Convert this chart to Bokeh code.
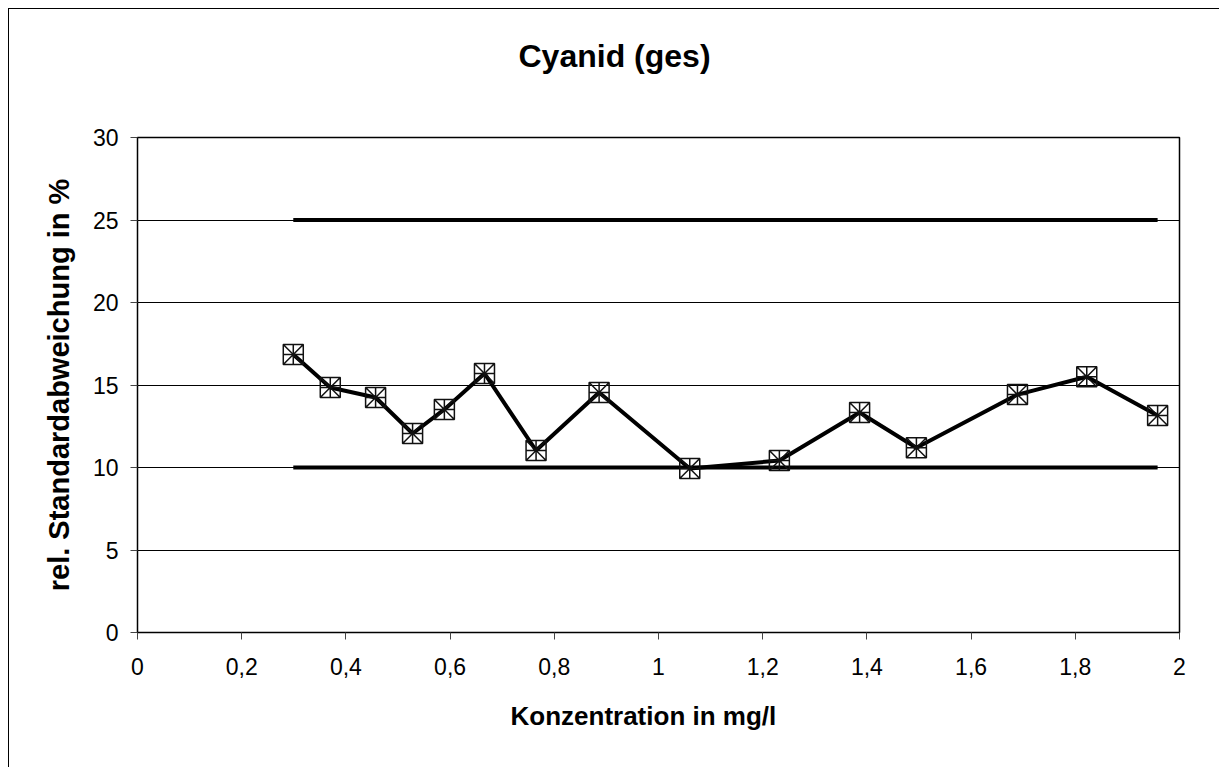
from bokeh.plotting import figure
from bokeh.models import FixedTicker, Title
from bokeh.embed import file_html
from bokeh.resources import INLINE

# ---- data ----
conc = [0.299, 0.370, 0.457, 0.528, 0.589, 0.666, 0.765, 0.886, 1.060,
        1.232, 1.386, 1.495, 1.689, 1.822, 1.958]
rsd = [16.85, 14.85, 14.24, 12.06, 13.52, 15.7, 11.03, 14.55, 9.94,
       10.42, 13.33, 11.2, 14.42, 15.5, 13.15]
limit_x = [0.299, 1.958]
limit_low = [10, 10]
limit_high = [25, 25]

x_ticks = [0, 0.2, 0.4, 0.6, 0.8, 1.0, 1.2, 1.4, 1.6, 1.8, 2.0]
x_tick_labels = ["0", "0,2", "0,4", "0,6", "0,8", "1", "1,2", "1,4", "1,6", "1,8", "2"]
y_ticks = [0, 5, 10, 15, 20, 25, 30]

title_text = "Cyanid (ges)"
x_label = "Konzentration in mg/l"
y_label = "rel. Standardabweichung in %"

FONT = "Liberation Sans"

p = figure(width=1211, height=759, output_backend="svg", toolbar_location=None,
           x_range=(0, 2), y_range=(0, 30),
           min_border_left=128, min_border_right=41,
           min_border_top=128, min_border_bottom=136)
p.styles = {"border-left": "1px solid #000", "border-top": "1px solid #000",
            "margin-left": "8px", "margin-top": "8px"}

p.background_fill_color = "white"
p.border_fill_color = "white"
p.outline_line_color = "black"
p.outline_line_width = 1.5

# spacer between frame and title (keeps the title high above the frame)
p.add_layout(Title(text=" ", text_font_size="1px", standoff=60), "above")
# chart title (outermost above panel)
p.title = Title(text=title_text, align="left", offset=381, standoff=0,
                vertical_align="middle",
                text_font=FONT, text_font_size="32px", text_font_style="bold",
                text_color="black")

# axes
p.xaxis.ticker = FixedTicker(ticks=x_ticks)
p.xaxis.major_label_overrides = {t: l for t, l in zip(x_ticks, x_tick_labels)}
p.yaxis.ticker = FixedTicker(ticks=y_ticks)
for ax in (p.xaxis[0], p.yaxis[0]):
    ax.major_label_text_font = FONT
    ax.major_label_text_font_size = "23px"
    ax.major_label_text_color = "black"
    ax.major_tick_out = 7
    ax.major_tick_in = 0
    ax.minor_tick_out = 0
    ax.minor_tick_in = 0
    ax.major_tick_line_color = "#444"
    ax.axis_line_color = "black"
p.xaxis.major_label_standoff = 18
p.yaxis.major_label_standoff = 12

p.yaxis.axis_label = y_label
p.yaxis.axis_label_text_font = FONT
p.yaxis.axis_label_text_font_size = "29px"
p.yaxis.axis_label_text_font_style = "bold"
p.yaxis.axis_label_text_color = "black"
p.yaxis.axis_label_standoff = 15

# x-axis title as a below-panel title so it can sit where the reference has it
p.add_layout(Title(text=x_label, align="left", offset=373, standoff=42,
                   text_font=FONT, text_font_size="26px", text_font_style="bold",
                   text_color="black"), "below")

p.xgrid.grid_line_color = None
p.ygrid.grid_line_color = "black"
p.ygrid.grid_line_width = 1

# limit lines
p.line(limit_x, limit_high, line_color="black", line_width=4)
p.line(limit_x, limit_low, line_color="black", line_width=4)

# data series
p.line(conc, rsd, line_color="black", line_width=4)
p.scatter(conc, rsd, marker="square_x", size=20, fill_alpha=0,
          line_color="#111", line_width=1.5)
p.scatter(conc, rsd, marker="cross", size=20, line_color="#111", line_width=1.5)

open("out.html", "w").write(file_html(p, INLINE))
